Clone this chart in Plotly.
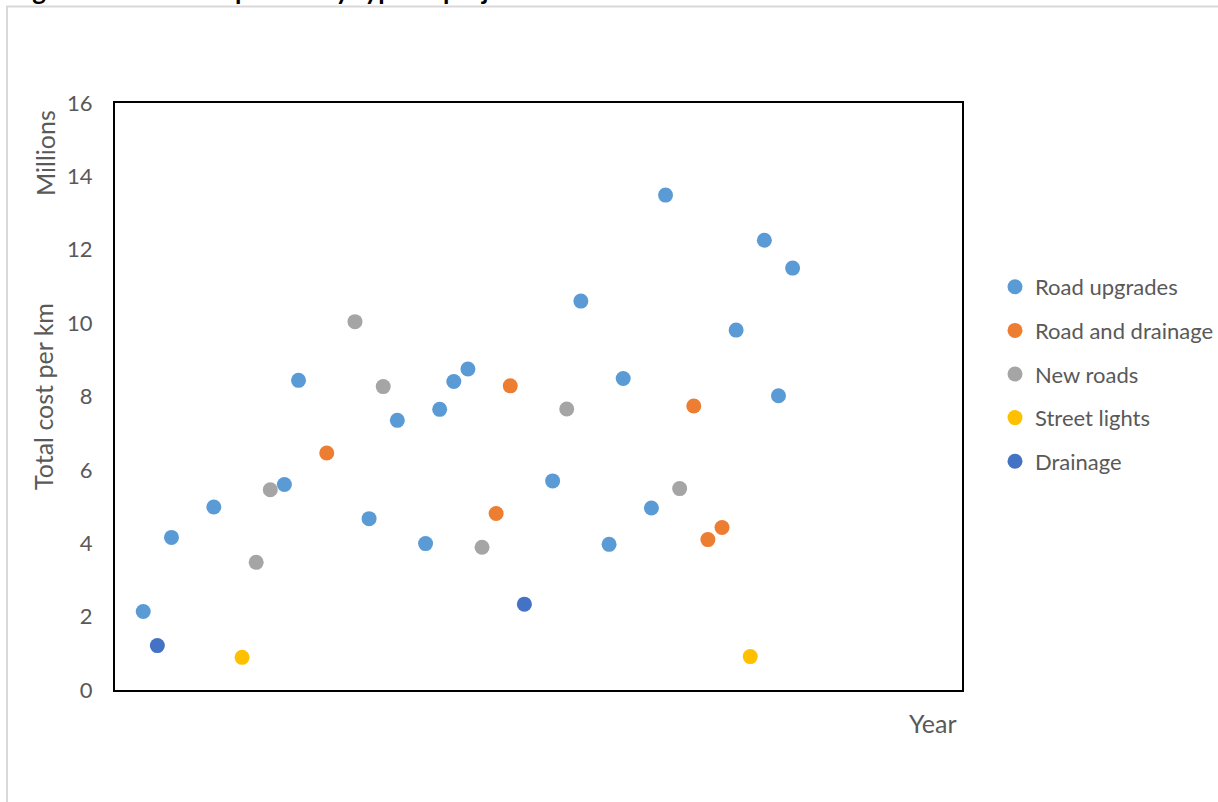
import plotly.graph_objects as go

# Cost per km (millions) by project, x = project sequence position
road_upgrades_x = [2, 4, 7, 12, 13, 18, 20, 22, 23, 24, 25, 31, 33, 35, 36, 38, 39, 44, 46, 47, 48]
road_upgrades_y = [2.14, 4.16, 4.99, 5.60, 8.44, 4.67, 7.35, 3.99, 7.65, 8.41, 8.75,
                   5.70, 10.60, 3.97, 8.49, 4.96, 13.49, 9.81, 12.26, 8.02, 11.50]

road_drainage_x = [15, 27, 28, 41, 42, 43]
road_drainage_y = [6.46, 4.81, 8.29, 7.74, 4.10, 4.43]

new_roads_x = [10, 11, 17, 19, 26, 32, 40]
new_roads_y = [3.48, 5.46, 10.04, 8.27, 3.89, 7.66, 5.49]

street_lights_x = [9, 45]
street_lights_y = [0.89, 0.91]

drainage_x = [3, 29]
drainage_y = [1.21, 2.34]

series = [
    ("Road upgrades", road_upgrades_x, road_upgrades_y, "#5B9BD5"),
    ("Road and drainage", road_drainage_x, road_drainage_y, "#ED7D31"),
    ("New roads", new_roads_x, new_roads_y, "#A5A5A5"),
    ("Street lights", street_lights_x, street_lights_y, "#FFC000"),
    ("Drainage", drainage_x, drainage_y, "#4472C4"),
]

y_ticks = [0, 2, 4, 6, 8, 10, 12, 14, 16]

FONT = "Lato, Calibri, Carlito, sans-serif"
GREY_TEXT = "#595959"

fig = go.Figure()
for i, (name, xs, ys, color) in enumerate(series):
    fig.add_trace(go.Scatter(
        x=xs, y=ys, mode="markers", name=name, legendgroup=f"g{i}",
        marker=dict(size=15, color=color, line=dict(width=0)),
    ))

W, H = 1218, 802
L, R, T, B = 115, 256, 103, 112
pw, ph = W - L - R, H - T - B


def px_x(x):
    return (x - L) / pw


def px_y(y):
    return (H - B - y) / ph


fig.update_layout(
    width=W, height=H,
    margin=dict(l=L, r=R, t=T, b=B, autoexpand=False),
    paper_bgcolor="white", plot_bgcolor="white",
    font=dict(family=FONT, color=GREY_TEXT, size=22),
    showlegend=True,
    legend=dict(
        x=px_x(995), y=px_y(266), xanchor="left", yanchor="top",
        font=dict(family=FONT, size=22, color=GREY_TEXT),
        tracegroupgap=12, bgcolor="rgba(0,0,0,0)",
    ),
    xaxis=dict(
        range=[0, 60], showticklabels=False, showgrid=False, zeroline=False,
        showline=True, linecolor="black", linewidth=2, mirror=True, ticks="",
    ),
    yaxis=dict(
        range=[0, 16], tickvals=y_ticks, showgrid=False, zeroline=False,
        showline=True, linecolor="black", linewidth=2, mirror=True, ticks="",
        ticklabelstandoff=16,
        tickfont=dict(family=FONT, size=22, color=GREY_TEXT),
        title=dict(text="Total cost per km", font=dict(family=FONT, size=25, color=GREY_TEXT),
                   standoff=6),
    ),
    shapes=[
        # chart area border
        dict(type="line", xref="paper", yref="paper",
             x0=px_x(7), x1=px_x(7), y0=px_y(6.5), y1=px_y(820),
             line=dict(color="#D9D9D9", width=2)),
        dict(type="line", xref="paper", yref="paper",
             x0=px_x(6), x1=px_x(1230), y0=px_y(6.5), y1=px_y(6.5),
             line=dict(color="#D9D9D9", width=2)),
    ],
    annotations=[
        dict(text="Millions", xref="paper", yref="paper", x=px_x(45), y=px_y(153),
             textangle=-90, showarrow=False, xanchor="center", yanchor="middle",
             font=dict(family=FONT, size=25, color=GREY_TEXT)),
        dict(text="Year", xref="paper", yref="paper", x=px_x(933), y=px_y(723),
             showarrow=False, xanchor="center", yanchor="middle",
             font=dict(family=FONT, size=25, color=GREY_TEXT)),
        dict(text="<b>Figure 4: Total cost per km by type of project</b>", xref="paper", yref="paper",
             x=px_x(9), y=px_y(-10), showarrow=False, xanchor="left", yanchor="middle",
             font=dict(family=FONT, size=26, color="black")),
    ],
)

fig.write_html("out.html")
